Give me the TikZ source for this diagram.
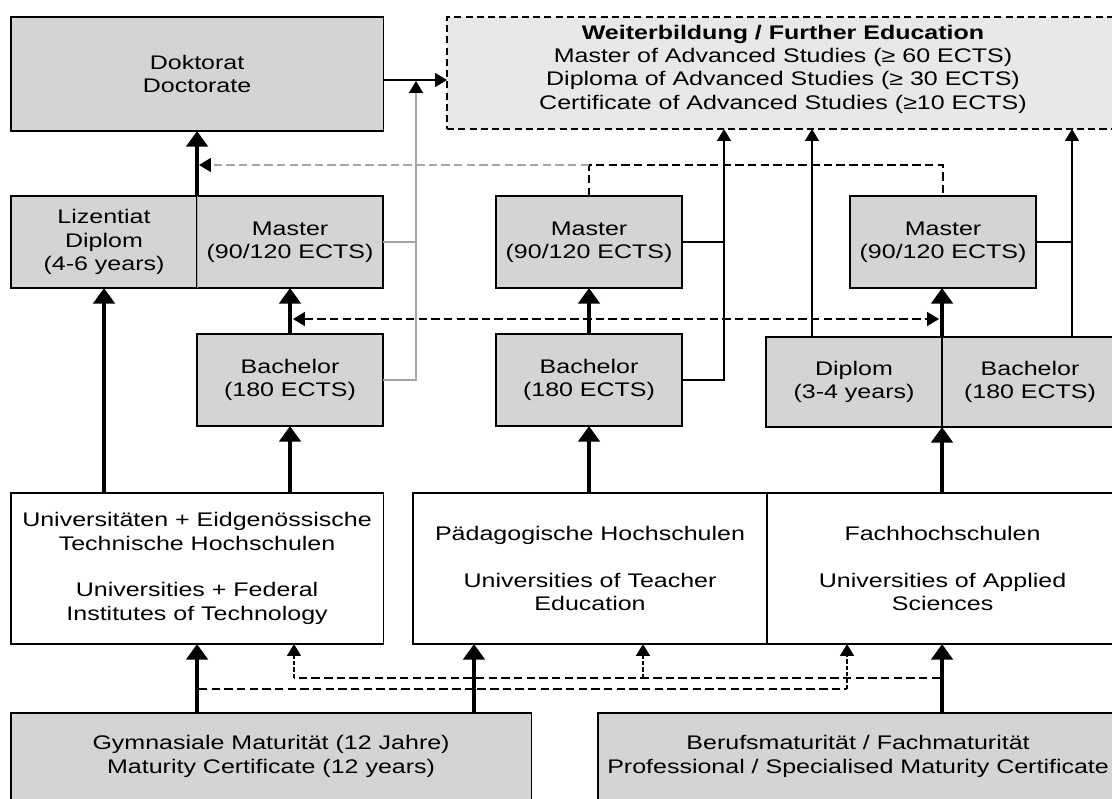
\documentclass[tikz,border=0pt]{standalone}
\usepackage{fontspec}
\setmainfont{Liberation Sans}[FakeStretch=1.27]
\usetikzlibrary{arrows.meta}
\definecolor{boxgray}{HTML}{D3D4D6}
\definecolor{fegray}{HTML}{E8E8E8}
\definecolor{linegray}{HTML}{A6A6A6}

\begin{document}
\begin{tikzpicture}[x=0.025cm,y=-0.025cm,
  font=\fontsize{14}{16.6}\selectfont,
  box/.style={draw,line width=0.8pt,anchor=north west,inner sep=0pt,outer sep=0pt,align=center},
  gbox/.style={box,fill=boxgray},
  tip/.style={-{Triangle[width=10pt,length=8.5pt,color=black]}},
  bigarrow/.style={line width=2.8pt,-{Triangle[width=15pt,length=11pt]}},
  thinline/.style={line width=0.9pt},
  thinarrow/.style={thinline,tip},
  dashline/.style={line width=0.9pt,dash pattern=on 6pt off 3pt},
  dotline/.style={line width=0.9pt,dash pattern=on 3pt off 1.5pt}]
  \clip (0,0) rectangle (1112,798);

  \node[gbox,minimum width=9.3cm,minimum height=2.85cm] (doc) at (11,17) {Doktorat\\Doctorate};
  \node[box,fill=fegray,dash pattern=on 5pt off 3pt,minimum width=16.775cm,minimum height=2.8cm] (fe) at (447,17) {};
  \node[align=center] (fetext) at (783,69) {\textbf{Weiterbildung / Further Education}\\
    Master of Advanced Studies (≥ 60 ECTS)\\Diploma of Advanced Studies (≥ 30 ECTS)\\
    Certificate of Advanced Studies (≥10 ECTS)};

  \node[gbox,minimum width=4.65cm,minimum height=2.3cm] (liz) at (11,196) {Lizentiat\\Diplom\\(4-6 years)};
  \foreach \nm/\x in {ma1/197,ma2/496,ma3/850}
    \node[gbox,minimum width=4.65cm,minimum height=2.3cm] (\nm) at (\x,196) {Master\\(90/120 ECTS)};
  \draw[linegray] (ma1.north west) -- (ma1.south west);
  \foreach \nm/\x in {ba1/197,ba2/496}
    \node[gbox,minimum width=4.65cm,minimum height=2.3cm] (\nm) at (\x,334) {Bachelor\\(180 ECTS)};
  \node[gbox,minimum width=4.4cm,minimum height=2.25cm] (dip) at (766,337) {Diplom\\(3-4 years)};
  \node[gbox,minimum width=4.4cm,minimum height=2.25cm] (ba3) at (942,337) {Bachelor\\(180 ECTS)};

  \node[box,minimum width=9.3cm,minimum height=3.775cm] (uni) at (11,493)
    {Universitäten + Eidgenössische\\Technische Hochschulen\\[16.6pt]Universities + Federal\\Institutes of Technology};
  \node[box,minimum width=8.85cm,minimum height=3.775cm] (paed) at (413,493)
    {Pädagogische Hochschulen\\[16.6pt]Universities of Teacher\\Education};
  \node[box,minimum width=8.775cm,minimum height=3.775cm] (fach) at (767,493)
    {Fachhochschulen\\[16.6pt]Universities of Applied\\Sciences};
  \node[gbox,minimum width=13cm,minimum height=2.175cm] (gym) at (11,713)
    {Gymnasiale Maturität (12 Jahre)\\Maturity Certificate (12 years)};
  \node[gbox,minimum width=13cm,minimum height=2.175cm] (beruf) at (598,713)
    {Berufsmaturität / Fachmaturität\\Professional / Specialised Maturity Certificate};

  \coordinate (j1) at (416,81);
  \coordinate (j2) at (724,129);
  \coordinate (j3) at (812,129);
  \coordinate (j4) at (1072,129);
  \coordinate (d1) at (199,165);
  \coordinate (m1) at (293,319);
  \coordinate (m2) at (939,319);
  \coordinate (g1) at (474,713);
  \coordinate (p1) at (199,689);
  \coordinate (p2) at (847,644);
  \coordinate (q1) at (940,678);
  \coordinate (q2) at (294,644);
  \coordinate (q3) at (643,644);

  % further education links
  \draw[thinarrow] (doc.east |- 0,80) -- (fe.west |- 0,80);
  \draw[thinline,linegray] (ma1.east) -- (ma1.east -| j1);
  \draw[thinarrow,linegray] (ba1.east) -| (j1);
  \draw[thinline] (ma2.east) -- (ma2.east -| j2);
  \draw[thinarrow] (ba2.east) -| (j2);
  \draw[thinarrow] (j3 |- dip.north) -- (j3);
  \draw[thinline] (ma3.east) -- (ma3.east -| j4);
  \draw[thinarrow] (j4 |- ba3.north) -- (j4);

  \draw[dashline] (ma2.north) |- (d1 -| ma3.north) -- (ma3.north);
  \draw[dashline,linegray,tip] (d1 -| ma2.north) -- (d1);
  \draw[dashline,{Triangle[width=10pt,length=8.5pt]}-{Triangle[width=10pt,length=8.5pt]}] (m1) -- (m2);

  \draw[dashline] (p1) -- (p1 -| p2);
  \draw[dotline,tip] (p1 -| p2) -- (p2);
  \draw[dashline] (q1) -- (q1 -| q2);
  \draw[dotline,tip] (q1 -| q2) -- (q2);
  \draw[dotline,tip] (q1 -| q3) -- (q3);

  % main paths
  \draw[bigarrow] (liz.north east) -- (liz.north east |- doc.south);
  \draw[bigarrow] (ba1.north) -- (ma1.south);
  \draw[bigarrow] (ba2.north) -- (ma2.south);
  \draw[bigarrow] (dip.north east) -- (dip.north east |- ma3.south);
  \draw[bigarrow] (liz.south |- uni.north) -- (liz.south);
  \draw[bigarrow] (ba1.south |- uni.north) -- (ba1.south);
  \draw[bigarrow] (ba2.south |- paed.north) -- (ba2.south);
  \draw[bigarrow] (dip.south east |- fach.north) -- (dip.south east);
  \draw[bigarrow] (uni.south |- gym.north) -- (uni.south);
  \draw[bigarrow] (g1) -- (g1 |- paed.south);
  \draw[bigarrow] (dip.south east |- beruf.north) -- (dip.south east |- fach.south);
\end{tikzpicture}
\end{document}
